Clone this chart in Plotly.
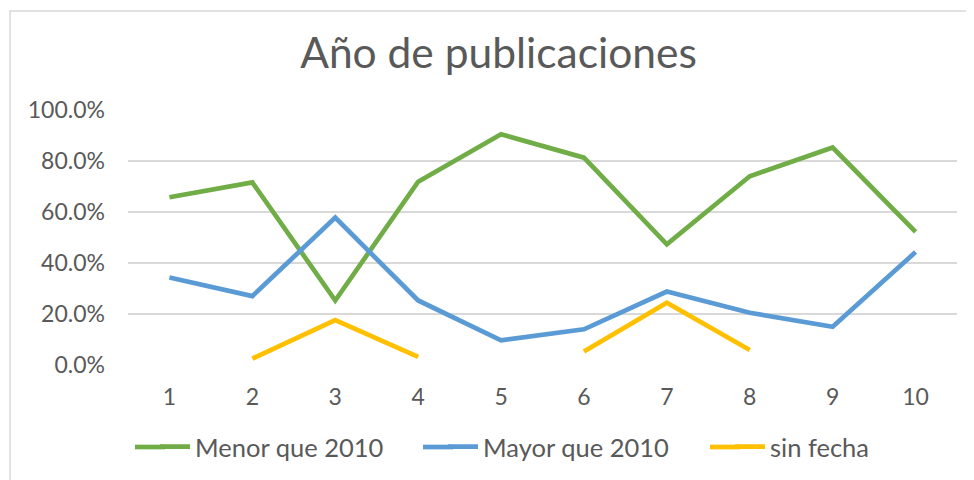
import plotly.graph_objects as go

categories = [1, 2, 3, 4, 5, 6, 7, 8, 9, 10]
menor_2010 = [0.658, 0.716, 0.253, 0.719, 0.905, 0.813, 0.473, 0.740, 0.853, 0.522]
mayor_2010 = [0.343, 0.270, 0.578, 0.253, 0.097, 0.140, 0.288, 0.205, 0.150, 0.443]
sin_fecha = [None, 0.025, 0.176, 0.032, None, 0.053, 0.244, 0.059, None, None]
tick_vals = [0, 0.2, 0.4, 0.6, 0.8, 1.0]

FONT = "Lato"
GREY = "#595959"

# page body has an 8px offset; figure sized to fit the window
W, H = 966, 472
L, T = 120, 102
PW, PH = 829, 255
LEG_Y = 439

series = [
    ("Menor que 2010", menor_2010, "#70AD47", "legend", 147),
    ("Mayor que 2010", mayor_2010, "#5B9BD5", "legend2", 435),
    ("sin fecha", sin_fecha, "#FFC000", "legend3", 722),
]

fig = go.Figure()
legend_defs = {}
for name, vals, col, lg, lx in series:
    fig.add_trace(go.Scatter(
        x=categories, y=vals, name=name, mode="lines",
        line=dict(color=col, width=4.7),
        connectgaps=False, legend=lg,
    ))
    legend_defs[lg] = dict(
        orientation="h", x=(lx - L) / PW, xanchor="left",
        y=-(LEG_Y - T - PH) / PH, yanchor="middle",
        font=dict(family=FONT, size=25.5, color=GREY),
        itemwidth=30, bgcolor="rgba(0,0,0,0)",
    )
    # lengthen the legend key line (Excel-style longer key)
    fig.add_shape(type="line", xref="paper", yref="paper",
                  x0=(lx - 20 - L) / PW, x1=(lx + 10 - L) / PW,
                  y0=-(LEG_Y - T - PH) / PH, y1=-(LEG_Y - T - PH) / PH,
                  line=dict(color=col, width=4.7))

fig.update_layout(
    width=W, height=H,
    paper_bgcolor="white", plot_bgcolor="white",
    margin=dict(l=L, r=W - L - PW, t=T, b=H - T - PH, autoexpand=False),
    font=dict(family=FONT, color=GREY),
    title=dict(text="Año de publicaciones", x=490.5 / W, xanchor="center",
               y=1 - 45 / H, yanchor="middle",
               font=dict(family=FONT, size=42.5, color=GREY)),
    showlegend=True,
    xaxis=dict(range=[0.5, 10.5], tickmode="array", tickvals=categories,
               ticktext=[str(c) for c in categories],
               showgrid=False, zeroline=False, showline=False, ticks="",
               tickfont=dict(family=FONT, size=23, color=GREY),
               ticklabelstandoff=16, fixedrange=True),
    yaxis=dict(range=[0, 1.0], tickmode="array", tickvals=tick_vals,
               tickformat=".1%", showgrid=True, gridcolor="#D9D9D9", gridwidth=1.5,
               zeroline=False, showline=False, ticks="",
               tickfont=dict(family=FONT, size=23, color=GREY),
               ticklabelstandoff=22, fixedrange=True),
    **legend_defs,
)

# chart frame
fig.add_shape(type="rect", xref="paper", yref="paper",
              x0=(2 - L) / PW, x1=(W + 20 - L) / PW,
              y0=-(H + 20 - T - PH) / PH, y1=1 + (T - 3) / PH,
              line=dict(color="#D9D9D9", width=1.5), fillcolor="rgba(0,0,0,0)",
              layer="below")

fig.write_html("out.html")
